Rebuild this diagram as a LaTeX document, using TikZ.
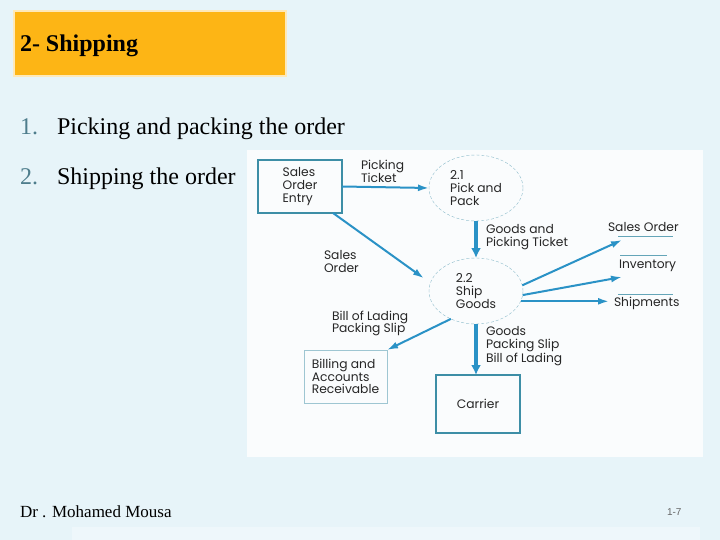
\documentclass[tikz,border=0pt]{standalone}
\usepackage{fontspec}
\setmainfont{Liberation Serif}
\newfontfamily\dfdfont{Poppins}
\newfontfamily\pagefont{Liberation Sans}
\usetikzlibrary{arrows.meta,shapes.geometric}

\definecolor{slidebg}{HTML}{E7F4F9}
\definecolor{panelbg}{HTML}{FAFCFD}
\definecolor{titlebar}{HTML}{FDB515}
\definecolor{flowblue}{HTML}{2A92C6}
\definecolor{boxedge}{HTML}{3D8EA6}
\definecolor{numgray}{HTML}{4E7D8C}

\begin{document}
\begin{tikzpicture}[x=1pt,y=-1pt,
        every node/.style={inner sep=0pt,outer sep=0pt},
        dfd/.style={font=\dfdfont\fontsize{12.3}{12.7}\selectfont,text=black!85,align=left},
        label/.style={dfd,anchor=base west},
        entity/.style={dfd,draw=boxedge,line width=1.5pt},
        process/.style={dfd,ellipse,draw=boxedge!60,densely dashed,thin,minimum width=94pt,minimum height=66pt},
        flow/.style={draw=flowblue,line width=2pt,-{Latex[length=11pt,width=7pt]}},
        bigflow/.style={flow,line width=4pt,-{Latex[length=10pt,width=10pt]}},
        storeline/.style={draw=boxedge!80,thin},
        bullet/.style={font=\fontsize{24}{28}\selectfont,anchor=base west}]

    \useasboundingbox (0,0) rectangle (720,540);
    \fill[slidebg] (0,0) rectangle (720,540);
    \fill[slidebg!70!white] (72,527) rectangle (700,540);

    % title and list
    \fill[titlebar,draw=titlebar!30!white,line width=1.5pt] (14,11) rectangle (286,76);
    \node[anchor=base west,font=\bfseries\fontsize{24}{28}\selectfont] (title) at (20,52) {2- Shipping};
    \node[bullet,text=numgray] (n1) at (20,135) {1.};
    \node[bullet] (item1) at (57,135) {Picking and packing the order};
    \node[bullet,text=numgray] (n2) at (20,185) {2.};
    \node[bullet] (item2) at (57,185) {Shipping the order};

    % diagram
    \fill[panelbg] (247,150) rectangle (703,457);
    \node[entity,minimum width=84pt,minimum height=53pt] (soe) at (300,186.5) {Sales\\Order\\Entry};
    \node[process] (pick) at (476,188) {2.1\\Pick and\\Pack};
    \node[process] (ship) at (476,291) {2.2\\Ship\\Goods};
    \node[entity,draw=boxedge!50,line width=1pt,minimum width=83pt,minimum height=53pt] (bill) at (345.5,376.5) {Billing and\\Accounts\\Receivable};
    \node[entity,minimum width=84pt,minimum height=58pt] (carrier) at (478,404) {Carrier};

    \node[label] (sorder) at (608,231) {Sales Order};
    \node[label] (invent) at (619,268.5) {Inventory};
    \node[label] (shipm) at (614,306.5) {Shipments};
    \draw[storeline] (618,236) -- (673,236);
    \draw[storeline] (620,255) -- (667,255);
    \draw[storeline] (618,294) -- (673,294);
    \coordinate (sorderIn) at (622,240);
    \coordinate (inventIn) at (622,277);

    \draw[flow] (soe.east) -- (pick.west);
    \draw[flow,shorten >=8pt] ([xshift=-9pt]soe.south east) -- (ship.170);
    \draw[bigflow] (pick.south) -- (ship.north);
    \draw[flow] (ship.7) -- (sorderIn);
    \draw[flow] (ship.-5) -- (inventIn);
    \draw[flow,shorten >=5pt] (ship.-13) -- (shipm.west |- ship.-13);
    \draw[flow] (ship.-132) -- (bill.north east);
    \draw[bigflow] (ship.south) -- (ship.south |- carrier.north);

    \node[label] (lpick) at (361,182.7) {Picking\\Ticket};
    \node[label] (lgoods) at (486,246.7) {Goods and\\Picking Ticket};
    \node[label] (lorder) at (324,272.2) {Sales\\Order};
    \node[label] (lbill) at (332,332.7) {Bill of Lading\\Packing Slip};
    \node[label] (lcarry) at (486,362.4) {Goods\\Packing Slip\\Bill of Lading};

    % footer
    \node[anchor=west,font=\fontsize{17}{20}\selectfont] (author) at (20,512) {Dr . Mohamed Mousa};
    \node[anchor=west,font=\pagefont\fontsize{10}{12}\selectfont,text=black!60] (page) at (667,512) {1-7};

\end{tikzpicture}
\end{document}
